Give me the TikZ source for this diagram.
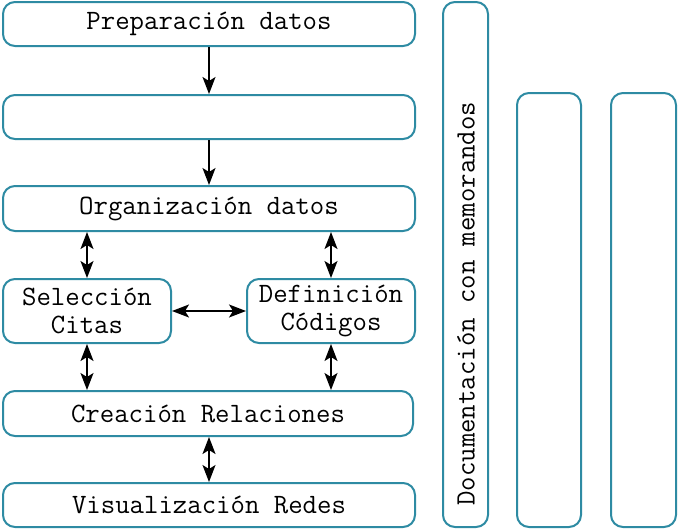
\documentclass[tikz,border=0pt]{standalone}
\usetikzlibrary{arrows.meta}
\definecolor{boxblue}{RGB}{46,139,163}
\begin{document}
\begin{tikzpicture}[x=0.5pt,y=-0.5pt,
  tip/.tip={Stealth[length=8.5pt,width=6.5pt,inset=2pt]},
  box/.style={draw=boxblue,line width=1pt,rounded corners=6pt,fill=white,
    inner sep=0pt,align=center,font=\fontsize{14}{13.6}\selectfont\ttfamily},
  conn/.style={line width=0.75pt,-tip},
  biconn/.style={line width=0.75pt,tip-tip}]
\useasboundingbox (0,0) rectangle (678,530);
\node[box,minimum width=206pt,minimum height=22pt] (prep) at (209,24) {Preparaci\'on datos};
\node[box,minimum width=206pt,minimum height=22pt] (hidden) at (209,117) {};
\node[box,minimum width=206pt,minimum height=22.5pt] (org) at (209,208.5) {Organizaci\'on datos};
\node[box,minimum width=84pt,minimum height=32pt] (sel) at (87,311) {Selecci\'on\\Citas};
\node[box,minimum width=84pt,minimum height=32pt] (def) at (331,311) {Definici\'on\\C\'odigos};
\node[box,minimum width=205pt,minimum height=22.5pt] (cre) at (208,413.5) {Creaci\'on Relaciones};
\node[box,minimum width=206pt,minimum height=22pt] (vis) at (209,505) {Visualizaci\'on Redes};
\node[box,minimum width=22.5pt,minimum height=262.5pt] (doc) at (465.5,264.5) {};
\node[font=\fontsize{14}{14}\selectfont\ttfamily,rotate=90,anchor=west,inner sep=0pt] (doctext) at (466,506) {Documentaci\'on con memorandos};
\node[box,minimum width=32pt,minimum height=217pt] (r1) at (549,310) {};
\node[box,minimum width=32.5pt,minimum height=217pt] (r2) at (643.5,310) {};
\draw[conn] (prep.south) -- (hidden.north);
\draw[conn] (hidden.south) -- (org.north);
\draw[biconn] (sel.north) -- (sel.north |- org.south);
\draw[biconn] (def.north) -- (def.north |- org.south);
\draw[biconn] (sel.east) -- (def.west);
\draw[biconn] (sel.south) -- (sel.south |- cre.north);
\draw[biconn] (def.south) -- (def.south |- cre.north);
\draw[biconn] (vis.north) -- (vis.north |- cre.south);
\end{tikzpicture}
\end{document}
